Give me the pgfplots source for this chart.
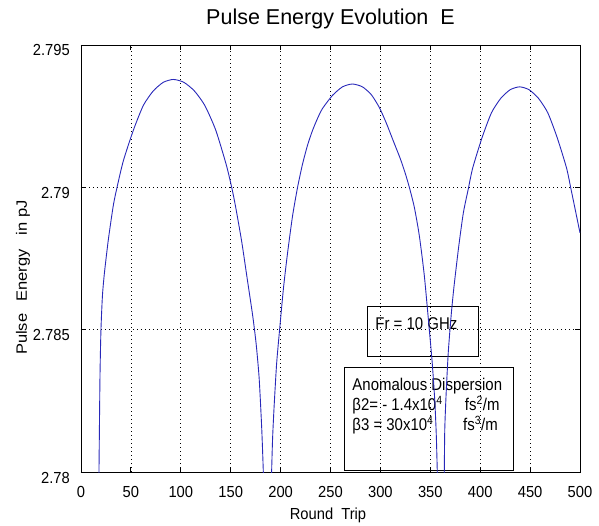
\documentclass[border=0pt]{standalone}
\usepackage{fontspec}
\setmainfont{Liberation Sans}
\newfontfamily\tickfont[FakeStretch=0.92]{Liberation Sans}
\newfontfamily\boxfont[FakeStretch=0.88]{Liberation Sans}
\newfontfamily\ylabfont[FakeStretch=1.1]{Liberation Sans}
\usepackage{pgfplots}
\pgfplotsset{compat=1.18}
\definecolor{curve}{RGB}{40,40,185}

\begin{document}
\begin{tikzpicture}
\path (-81bp,-54bp) rectangle (518bp,472bp);
\begin{axis}[
  at={(0,0)}, anchor=south west,
  scale only axis, width=499bp, height=427bp,
  xmin=0, xmax=500, ymin=2.78, ymax=2.795,
  xtick={0,50,100,150,200,250,300,350,400,450,500},
  xticklabels={0,50,100,150,200,250,300,350,400,450,500},
  ytick={2.78,2.785,2.79,2.795},
  yticklabels={2.78,2.785,2.79,2.795},
  grid=major,
  major grid style={black, line width=0.6bp, dash pattern=on 1bp off 3bp},
  axis line style={black, line width=0.8bp},
  tick style={black, line width=0.8bp},
  tick align=inside, major tick length=5bp,
  ticklabel style={font=\tickfont\fontsize{16bp}{16bp}\selectfont, inner sep=0pt},
  xticklabel style={anchor=base, yshift=-25bp},
  yticklabel style={anchor=base east, xshift=-11bp, yshift=-11bp},
  title={Pulse Energy Evolution\ \ E},
  title style={font=\fontsize{21.5bp}{22bp}\selectfont, anchor=base, at={(axis description cs:0.5,1)}, yshift=15bp, inner sep=0pt},
  xlabel={Round\ \ Trip},
  xlabel style={font=\tickfont\fontsize{16bp}{16bp}\selectfont, anchor=base, at={([xshift=-2.5bp,yshift=-47bp]axis description cs:0.5,0)}, inner sep=0pt},
  ylabel={Pulse\hspace{12bp}Energy\hspace{14bp}in pJ},
  ylabel style={font=\ylabfont\fontsize{15bp}{15bp}\selectfont, anchor=base, at={([xshift=-54bp]axis description cs:0,0.455)}, inner sep=0pt},
]
\draw[black, line width=0.8bp] (axis cs:286.9,2.78581) rectangle (axis cs:398.1,2.78407);
\draw[black, line width=0.8bp] (axis cs:263.5,2.78366) rectangle (axis cs:433.2,2.78007);
\node[anchor=base west, inner sep=0pt, font=\boxfont\fontsize{17bp}{17bp}\selectfont] at (axis cs:294.8,2.78501) {Fr = 10 GHz};
\node[anchor=base west, inner sep=0pt, font=\boxfont\fontsize{17bp}{17bp}\selectfont] at (axis cs:271.8,2.78286) {Anomalous Dispersion};
\node[anchor=base west, inner sep=0pt, font=\boxfont\fontsize{17bp}{17bp}\selectfont] at (axis cs:271.8,2.78215) {β2= - 1.4x10\textsuperscript{4}};
\node[anchor=base west, inner sep=0pt, font=\boxfont\fontsize{17bp}{17bp}\selectfont] at (axis cs:384.5,2.78215) {fs\textsuperscript{2}/m};
\node[anchor=base west, inner sep=0pt, font=\boxfont\fontsize{17bp}{17bp}\selectfont] at (axis cs:271.8,2.78145) {β3 = 30x10\textsuperscript{4}};
\node[anchor=base west, inner sep=0pt, font=\boxfont\fontsize{17bp}{17bp}\selectfont] at (axis cs:382.8,2.78145) {fs\textsuperscript{3}/m};
\addplot[curve, line width=0.9bp, smooth, tension=0.4] coordinates {
(17.5,2.7790) (18,2.7800) (19,2.7833) (20,2.7850) (21.5,2.7862) (23.5,2.7870)
(27.5,2.78819) (32.5,2.78939) (36.5,2.79006) (42.5,2.79094) (52.5,2.79201)
(62.5,2.79288) (72.5,2.79339) (82.5,2.79369) (92.5,2.79379) (103,2.79369)
(113.5,2.79339) (124,2.79288) (135,2.79201) (145.5,2.79080) (151,2.7900)
(155,2.7893) (161,2.7881) (166.5,2.7868) (172,2.7855) (175.5,2.7845)
(178.5,2.7833) (181,2.7816) (182.5,2.7802) (183.5,2.7790)
};
\addplot[curve, line width=0.9bp, smooth, tension=0.4] coordinates {
(190.5,2.7790) (191,2.7800) (192,2.7812) (193.5,2.7823) (196,2.7838) (199,2.7850)
(203,2.7865) (207,2.7877) (212,2.7890) (217,2.7900) (222,2.79082) (227,2.79148)
(232,2.79200) (237,2.79242) (242,2.79277) (252,2.79323) (262,2.79353) (272,2.79363)
(282,2.79353) (291,2.79325) (299,2.7928) (306,2.79225) (312.7,2.79165) (320,2.7910)
(325,2.79048) (329,2.7900) (334,2.7893) (339,2.7883) (344,2.7869) (349,2.7850)
(352,2.7838) (354.5,2.7825) (356,2.7813) (357,2.7800) (357.5,2.7790)
};
\addplot[curve, line width=0.9bp, smooth, tension=0.4] coordinates {
(363.5,2.7790) (364,2.7800) (364.5,2.7815) (365.8,2.7827) (368,2.7842) (370.9,2.7855)
(373.7,2.7865) (378.4,2.7879) (383.1,2.7891) (387.8,2.7899) (392.5,2.79068)
(401.9,2.79175) (411.3,2.79262) (420.7,2.79313) (430.1,2.79343) (439.5,2.79353)
(448.9,2.79343) (458.3,2.79313) (467.7,2.79262) (477.1,2.79175) (486.5,2.79068)
(491.2,2.7899) (495.9,2.7891) (500,2.7884)
};
\end{axis}
\end{tikzpicture}
\end{document}
